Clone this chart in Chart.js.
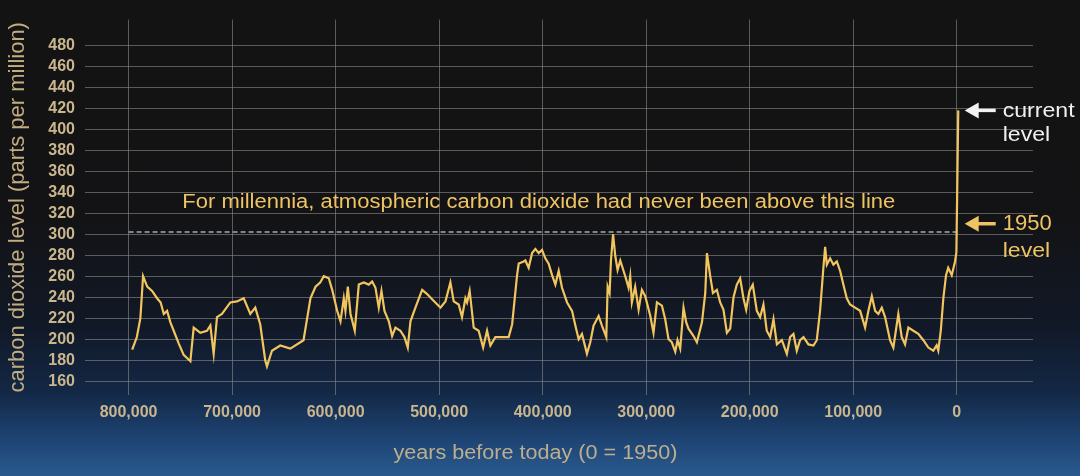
<!DOCTYPE html>
<html>
<head>
<meta charset="utf-8">
<script src="https://cdn.jsdelivr.net/npm/chart.js@4.4.1/dist/chart.umd.min.js"></script>
<style>
  html, body { margin: 0; padding: 0; }
  body {
    width: 1080px; height: 476px; overflow: hidden;
    background: linear-gradient(to bottom, #131313 0%, #131315 45%, #111826 68%, #132744 82%, #1d4372 92%, #2a5a8e 100%);
  }
  canvas { display: block; }
</style>
</head>
<body>
<canvas id="c" width="1080" height="476"></canvas>
<script>
// Years before 1950 (thousands of years) and CO2 (ppm)
const agesKyr = [
  796.5, 792, 788.6, 786, 782, 777.3, 772.5, 769, 766, 762.8, 759.6, 756.4, 751.6, 746.8, 740.3,
  737.1, 730.7, 724.3, 721, 717.8, 714.6, 709.8, 701.7, 695.3, 688.8, 682.4, 677.6, 672.8, 668, 666.3,
  661.5, 653.5, 643.8, 631, 624.3, 619.4, 614.9, 611.4, 606.6, 603.3, 598.5, 595.3, 592.1, 590.5, 588.2,
  585.6, 581.5, 577.6, 572.8, 568, 564.7, 561.5, 558.3, 555.7, 552.8, 548.6, 545.4, 542.2, 537.4, 533.5,
  530.3, 527.7, 522.9, 516.4, 511.6, 506.8, 498.7, 493.9, 489.1, 485.9, 481.1, 477.9, 474.6, 473, 470.5,
  466.6, 461.8, 457.5, 453.7, 450.5, 445.7, 440.9, 432.8, 429.5, 424.7, 423.1, 418.3, 416.7, 413.5, 410.2,
  407, 403.8, 400.6, 397.4, 394.2, 390.9, 387.7, 384.5, 381.3, 376.4, 371.6, 368.4, 365.2, 362, 357.2,
  354, 350.8, 345.9, 342.7, 338.5, 337.2, 335.3, 334, 332, 329.8, 327.6, 325, 320.2, 317, 315.4,
  313.8, 310.6, 307.3, 304.1, 300.9, 296, 292.9, 289.6, 284.8, 281.6, 278.4, 275.2, 271.9, 269.7, 267.1,
  263.9, 261.3, 259.1, 254.2, 251, 246.1, 242.9, 241.3, 238.1, 235.5, 231.7, 228.5, 225.3, 222, 218.8,
  215.6, 212.4, 209.2, 206, 203.4, 200.2, 197, 193.1, 189.9, 186.7, 183.5, 180.2, 177, 173.7, 168.9,
  164.1, 160.9, 157.7, 154.5, 151.3, 148, 143.2, 138.4, 135.2, 132, 128.8, 127.1, 125.5, 122.3, 119.1,
  115.8, 112.6, 109.5, 106.2, 103, 98.2, 93.3, 88.5, 85.3, 82, 78.8, 75.7, 72.4, 69.2, 64.4,
  61.2, 56.4, 53.1, 49.9, 46.7, 41.9, 37.1, 32.2, 27.4, 22.6, 19.4, 17.8, 15.4, 12.9, 10.3,
  8.2, 4.8, 1.6, 0.3, -1.5
];
const co2Ppm = [
  190, 202, 220, 260, 250, 246, 239, 235, 224, 227, 216, 208, 196, 185, 179,
  211, 206, 208, 213, 186, 221, 224, 235, 236, 239, 224, 230, 214, 180, 174,
  189, 194, 191, 199, 239, 250, 254, 260, 258, 247, 227, 217, 239, 227, 250,
  224, 208, 252, 254, 252, 255, 249, 230, 246, 227, 217, 203, 211, 208, 202,
  192, 217, 230, 247, 243, 238, 230, 236, 254, 236, 233, 221, 239, 235, 246,
  211, 208, 192, 208, 194, 202, 202, 202, 214, 261, 272, 274, 275, 268, 282,
  286, 282, 285, 277, 272, 261, 252, 265, 249, 235, 227, 213, 200, 205, 186,
  197, 213, 222, 213, 202, 250, 244, 275, 300, 279, 266, 275, 260, 249, 260,
  235, 250, 228, 247, 241, 222, 206, 235, 232, 219, 200, 197, 188, 199, 191,
  230, 216, 210, 203, 197, 216, 244, 282, 260, 244, 247, 235, 228, 206, 210,
  240, 252, 258, 239, 228, 246, 252, 227, 221, 233, 208, 202, 219, 195, 199,
  186, 202, 205, 189, 199, 202, 195, 194, 199, 227, 268, 288, 271, 277, 271,
  274, 265, 252, 239, 233, 230, 227, 211, 227, 241, 227, 224, 230, 221, 199,
  192, 224, 202, 195, 211, 208, 205, 199, 192, 189, 194, 189, 208, 239, 261,
  268, 261, 274, 283, 418
];
const thresholdPpm = 302;
const thresholdAgesKyr = [800, -1.5];
const yTicks = [160, 180, 200, 220, 240, 260, 280, 300, 320, 340, 360, 380, 400, 420, 440, 460, 480];
const xTicksKyr = [800, 700, 600, 500, 400, 300, 200, 100, 0];

const co2Points = agesKyr.map((a, i) => ({ x: a * 1000, y: co2Ppm[i] }));
const thresholdPoints = thresholdAgesKyr.map(a => ({ x: a * 1000, y: thresholdPpm }));

const FONT = "'Liberation Sans', Arial, Helvetica, sans-serif";
const TAN = '#c9b68e';
const GOLD = '#eec463';

function arrow(ctx, xTip, y, len, color) {
  ctx.save();
  ctx.strokeStyle = color; ctx.fillStyle = color;
  ctx.lineWidth = 3.5;
  ctx.beginPath(); ctx.moveTo(xTip + 10, y); ctx.lineTo(xTip + len, y); ctx.stroke();
  ctx.beginPath(); ctx.moveTo(xTip, y); ctx.lineTo(xTip + 14, y - 8); ctx.lineTo(xTip + 14, y + 8); ctx.closePath(); ctx.fill();
  ctx.restore();
}

function wideText(ctx, text, x, y, sx) {
  ctx.save();
  ctx.translate(x, y);
  ctx.scale(sx, 1);
  ctx.fillText(text, 0, 0);
  ctx.restore();
}

const annotations = {
  id: 'annotations',
  afterDatasetsDraw(chart) {
    const { ctx, scales: { x, y } } = chart;
    ctx.save();
    ctx.font = '20px ' + FONT;
    ctx.fillStyle = GOLD;
    ctx.textAlign = 'center';
    ctx.textBaseline = 'middle';
    wideText(ctx, 'For millennia, atmospheric carbon dioxide had never been above this line',
      x.getPixelForValue(403700), y.getPixelForValue(330.4), 1.1);

    // x axis title
    ctx.fillStyle = '#bcae8e';
    ctx.font = '20px ' + FONT;
    wideText(ctx, 'years before today (0 = 1950)', x.getPixelForValue(407000), 453, 1.08);

    const x0 = x.getPixelForValue(0);
    const yCur = y.getPixelForValue(418);
    const y1950 = y.getPixelForValue(310);
    arrow(ctx, x0 + 8, yCur, 31, '#f2f2f2');
    arrow(ctx, x0 + 8, y1950, 31, GOLD);
    ctx.textAlign = 'left';
    ctx.fillStyle = '#f0f0f0';
    ctx.font = '21px ' + FONT;
    wideText(ctx, 'current', x0 + 46, yCur + 1, 1.1);
    wideText(ctx, 'level', x0 + 46, yCur + 25, 1.1);
    ctx.fillStyle = GOLD;
    ctx.font = '22px ' + FONT;
    wideText(ctx, '1950', x0 + 46, y1950, 1.0);
    ctx.font = '21px ' + FONT;
    wideText(ctx, 'level', x0 + 46, y1950 + 27, 1.1);
    ctx.restore();
  }
};

new Chart(document.getElementById('c'), {
  type: 'line',
  data: {
    datasets: [
      {
        data: co2Points,
        borderColor: '#f2c55e',
        borderWidth: 2.2,
        pointRadius: 0,
        tension: 0,
        fill: false
      },
      {
        data: thresholdPoints,
        borderColor: '#a8a8a8',
        borderWidth: 1.5,
        borderDash: [5, 3],
        pointRadius: 0,
        fill: false
      }
    ]
  },
  options: {
    responsive: false,
    animation: false,
    devicePixelRatio: 1,
    layout: { padding: { top: 15, right: 47, left: 0, bottom: 0 } },
    plugins: { legend: { display: false }, tooltip: { enabled: false } },
    scales: {
      x: {
        type: 'linear',
        reverse: true,
        min: -73700,
        max: 842100,
        afterBuildTicks: s => { s.ticks = xTicksKyr.map(v => ({ value: v * 1000 })); },
        afterFit: s => { s.height = 81; },
        grid: { color: 'rgba(140,140,140,0.6)', lineWidth: 1, drawTicks: false },
        border: { display: false },
        ticks: {
          color: TAN,
          font: { family: FONT, size: 16, weight: 'bold' },
          padding: 8,
          maxRotation: 0,
          autoSkip: false,
          callback: v => v.toLocaleString('en-US')
        },
        title: { display: false }
      },
      y: {
        type: 'linear',
        min: 146.8,
        max: 504.5,
        afterBuildTicks: s => { s.ticks = yTicks.map(v => ({ value: v })); },
        afterFit: s => { s.width = 85; },
        grid: { color: 'rgba(140,140,140,0.6)', lineWidth: 1, drawTicks: false },
        border: { display: false },
        ticks: {
          color: TAN,
          font: { family: FONT, size: 16, weight: 'bold' },
          padding: 10,
          autoSkip: false
        },
        title: {
          display: true,
          text: 'carbon dioxide level (parts per million)',
          color: '#c2ad82',
          font: { family: FONT, size: 22 },
          padding: { top: 5, bottom: 0 }
        }
      }
    }
  },
  plugins: [annotations]
});
</script>
</body>
</html>
